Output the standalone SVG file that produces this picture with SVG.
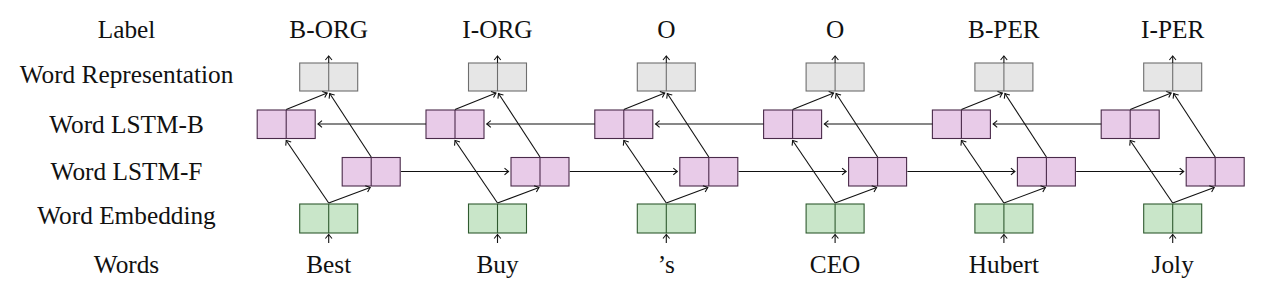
<svg xmlns="http://www.w3.org/2000/svg" width="1267" height="300" viewBox="0 0 1267 300">
<style>
text{font-family:"Liberation Serif","Times New Roman",serif;font-size:25.3px;fill:#111;text-anchor:middle}
.rep{fill:#e6e6e6;stroke:#6e6e6e;stroke-width:1.1}
.lstm{fill:#e8cbe8;stroke:#4a2a4a;stroke-width:1.1}
.emb{fill:#c9e6c9;stroke:#2f5a2f;stroke-width:1.1}
.rep-d{stroke:#6e6e6e;stroke-width:1.1}
.lstm-d{stroke:#4a2a4a;stroke-width:1.1}
.emb-d{stroke:#2f5a2f;stroke-width:1.1}
.c line{stroke:#111;stroke-width:1.1;fill:none;marker-end:url(#ah)}
</style>
<defs>
<marker id="ah" markerUnits="userSpaceOnUse" markerWidth="10" markerHeight="10" viewBox="-6 -5 8 10" refX="0" refY="0" orient="auto">
<path d="M-4,-3.3 Q-1.2,-0.9 0,0 Q-1.2,0.9 -4,3.3" fill="none" stroke="#111" stroke-width="1.1"/>
</marker>
<g id="box-rep"><rect class="rep" x="-29" y="0" width="58" height="28"/><line class="rep-d" x1="0" y1="0" x2="0" y2="28"/></g>
<g id="box-lstm"><rect class="lstm" x="-29" y="0" width="58" height="28.5"/><line class="lstm-d" x1="0" y1="0" x2="0" y2="28.5"/></g>
<g id="box-emb"><rect class="emb" x="-29" y="0" width="58" height="29"/><line class="emb-d" x1="0" y1="0" x2="0" y2="29"/></g>
</defs>

<g id="row-labels">
<text x="126.5" y="38">Label</text>
<text x="126.5" y="83">Word Representation</text>
<text x="126.5" y="133">Word LSTM-B</text>
<text x="126.5" y="180">Word LSTM-F</text>
<text x="126.5" y="224">Word Embedding</text>
<text x="126.5" y="273">Words</text>
</g>

<g id="tags">
<text x="328.7" y="37.5">B-ORG</text>
<text x="497.5" y="37.5">I-ORG</text>
<text x="666.3" y="37.5">O</text>
<text x="835.1" y="37.5">O</text>
<text x="1003.9" y="37.5">B-PER</text>
<text x="1172.7" y="37.5">I-PER</text>
</g>

<g id="words">
<text x="328.7" y="272.5">Best</text>
<text x="497.5" y="272.5">Buy</text>
<text x="666.3" y="272.5">’s</text>
<text x="835.1" y="272.5">CEO</text>
<text x="1003.9" y="272.5">Hubert</text>
<text x="1172.7" y="272.5">Joly</text>
</g>

<g id="rep-0"><use href="#box-rep" x="328.7" y="63"/></g>
<g id="rep-1"><use href="#box-rep" x="497.5" y="63"/></g>
<g id="rep-2"><use href="#box-rep" x="666.3" y="63"/></g>
<g id="rep-3"><use href="#box-rep" x="835.1" y="63"/></g>
<g id="rep-4"><use href="#box-rep" x="1003.9" y="63"/></g>
<g id="rep-5"><use href="#box-rep" x="1172.7" y="63"/></g>

<g id="lstmb-0"><use href="#box-lstm" x="286.2" y="110"/></g>
<g id="lstmb-1"><use href="#box-lstm" x="455" y="110"/></g>
<g id="lstmb-2"><use href="#box-lstm" x="623.8" y="110"/></g>
<g id="lstmb-3"><use href="#box-lstm" x="792.6" y="110"/></g>
<g id="lstmb-4"><use href="#box-lstm" x="961.4" y="110"/></g>
<g id="lstmb-5"><use href="#box-lstm" x="1130.2" y="110"/></g>

<g id="lstmf-0"><use href="#box-lstm" x="371.2" y="157.5"/></g>
<g id="lstmf-1"><use href="#box-lstm" x="540" y="157.5"/></g>
<g id="lstmf-2"><use href="#box-lstm" x="708.8" y="157.5"/></g>
<g id="lstmf-3"><use href="#box-lstm" x="877.6" y="157.5"/></g>
<g id="lstmf-4"><use href="#box-lstm" x="1046.4" y="157.5"/></g>
<g id="lstmf-5"><use href="#box-lstm" x="1215.2" y="157.5"/></g>

<g id="emb-0"><use href="#box-emb" x="328.7" y="204"/></g>
<g id="emb-1"><use href="#box-emb" x="497.5" y="204"/></g>
<g id="emb-2"><use href="#box-emb" x="666.3" y="204"/></g>
<g id="emb-3"><use href="#box-emb" x="835.1" y="204"/></g>
<g id="emb-4"><use href="#box-emb" x="1003.9" y="204"/></g>
<g id="emb-5"><use href="#box-emb" x="1172.7" y="204"/></g>

<g id="connectors" class="c">
<!-- column 0 -->
<line x1="328.7" y1="243" x2="328.7" y2="234.5"/>
<line x1="328.7" y1="63" x2="328.7" y2="56"/>
<line x1="328.7" y1="203" x2="286.2" y2="140.5"/>
<line x1="328.7" y1="203" x2="370.2" y2="187.5"/>
<line x1="286.2" y1="109.5" x2="327.2" y2="93"/>
<line x1="371.2" y1="157" x2="329.7" y2="93.5"/>
<!-- column 1 -->
<line x1="497.5" y1="243" x2="497.5" y2="234.5"/>
<line x1="497.5" y1="63" x2="497.5" y2="56"/>
<line x1="497.5" y1="203" x2="455" y2="140.5"/>
<line x1="497.5" y1="203" x2="539" y2="187.5"/>
<line x1="455" y1="109.5" x2="496" y2="93"/>
<line x1="540" y1="157" x2="498.5" y2="93.5"/>
<!-- column 2 -->
<line x1="666.3" y1="243" x2="666.3" y2="234.5"/>
<line x1="666.3" y1="63" x2="666.3" y2="56"/>
<line x1="666.3" y1="203" x2="623.8" y2="140.5"/>
<line x1="666.3" y1="203" x2="707.8" y2="187.5"/>
<line x1="623.8" y1="109.5" x2="664.8" y2="93"/>
<line x1="708.8" y1="157" x2="667.3" y2="93.5"/>
<!-- column 3 -->
<line x1="835.1" y1="243" x2="835.1" y2="234.5"/>
<line x1="835.1" y1="63" x2="835.1" y2="56"/>
<line x1="835.1" y1="203" x2="792.6" y2="140.5"/>
<line x1="835.1" y1="203" x2="876.6" y2="187.5"/>
<line x1="792.6" y1="109.5" x2="833.6" y2="93"/>
<line x1="877.6" y1="157" x2="836.1" y2="93.5"/>
<!-- column 4 -->
<line x1="1003.9" y1="243" x2="1003.9" y2="234.5"/>
<line x1="1003.9" y1="63" x2="1003.9" y2="56"/>
<line x1="1003.9" y1="203" x2="961.4" y2="140.5"/>
<line x1="1003.9" y1="203" x2="1045.4" y2="187.5"/>
<line x1="961.4" y1="109.5" x2="1002.4" y2="93"/>
<line x1="1046.4" y1="157" x2="1004.9" y2="93.5"/>
<!-- column 5 -->
<line x1="1172.7" y1="243" x2="1172.7" y2="234.5"/>
<line x1="1172.7" y1="63" x2="1172.7" y2="56"/>
<line x1="1172.7" y1="203" x2="1130.2" y2="140.5"/>
<line x1="1172.7" y1="203" x2="1214.2" y2="187.5"/>
<line x1="1130.2" y1="109.5" x2="1171.2" y2="93"/>
<line x1="1215.2" y1="157" x2="1173.7" y2="93.5"/>
<!-- backward LSTM chain -->
<line x1="426" y1="124" x2="318" y2="124"/>
<line x1="594.8" y1="124" x2="486.8" y2="124"/>
<line x1="763.6" y1="124" x2="655.6" y2="124"/>
<line x1="932.4" y1="124" x2="824.4" y2="124"/>
<line x1="1101.2" y1="124" x2="993.2" y2="124"/>
<!-- forward LSTM chain -->
<line x1="401" y1="171.5" x2="508.5" y2="171.5"/>
<line x1="569.8" y1="171.5" x2="677.3" y2="171.5"/>
<line x1="738.6" y1="171.5" x2="846.1" y2="171.5"/>
<line x1="907.4" y1="171.5" x2="1014.9" y2="171.5"/>
<line x1="1076.2" y1="171.5" x2="1183.7" y2="171.5"/>
</g>
</svg>
